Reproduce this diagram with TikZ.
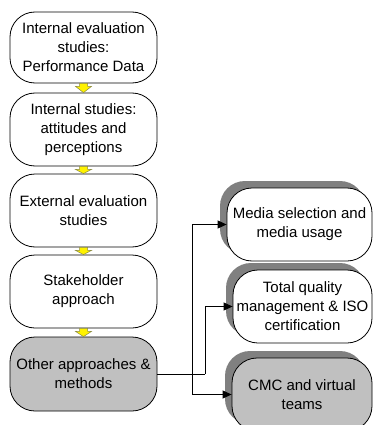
\documentclass[tikz,border=0pt]{standalone}
\usepackage{fontspec}
\setmainfont{Liberation Sans}
\usetikzlibrary{arrows.meta,shadows}
\definecolor{boxgray}{HTML}{C0C0C0}
\definecolor{shadowgray}{HTML}{808080}
\definecolor{arrowedge}{HTML}{8C8C40}
\begin{document}
\begin{tikzpicture}[x=1pt,y=-1pt,
  stage/.style={draw=black, line width=0.8pt, rounded corners=25pt, fill=white,
    align=center, inner sep=2pt, font=\fontsize{15}{19}\selectfont},
  leftbox/.style={stage, minimum width=147pt, minimum height=73pt},
  rightbox/.style={stage, minimum height=73pt,
    general shadow={fill=shadowgray, draw=none, rounded corners=25pt,
      shadow xshift=-7pt, shadow yshift=7pt}},
  flow/.style={line width=0.8pt, -{Triangle[length=9pt,width=8pt]}},
  link/.style={line width=0.8pt},
  steparrow/.style={fill=yellow, draw=arrowedge, line width=0.5pt, line join=miter}
]
\fill[white] (0,0) rectangle (374,425);
\clip (0,0) rectangle (374,425);

% stages of the evaluation sequence
\node[leftbox, minimum height=71pt] (b1) at (83.5,47.5) {Internal evaluation\\studies:\\Performance Data};
\node[leftbox] (b2) at (83.5,129.5) {Internal studies:\\attitudes and\\perceptions};
\node[leftbox] (b3) at (83.5,210.5) {External evaluation\\studies};
\node[leftbox] (b4) at (83.5,291.5) {Stakeholder\\approach};
\node[leftbox, minimum height=74pt, fill=boxgray] (b5) at (83.5,374) {Other approaches \&\\methods};

% branches of the other approaches
\node[rightbox, minimum width=145pt] (media) at (299.5,224.5) {Media selection and\\media usage};
\node[rightbox, minimum width=139pt] (tqm) at (302.5,306.5) {Total quality\\management \& ISO\\certification};
\node[rightbox, minimum width=140pt, fill=boxgray] (cmc) at (302,394.5) {CMC and virtual\\teams};

% small yellow block arrows between stages
\foreach \a/\b in {b1/b2, b2/b3, b3/b4, b4/b5}{
  \draw[steparrow] ([xshift=-4pt]\a.south) -- ([xshift=4pt]\a.south) -- ++(0,3) -- ++(4,0)
    -- (\b.north) -- ([xshift=-8pt,yshift=-3pt]\a.south) -- ++(4,0) -- cycle;
}

% connectors to the branches
\coordinate (j1) at (192,374);
\coordinate (j2) at (205,374);
\draw[link] (b5.east) -- (j2);
\draw[flow] (j1) |- (media.west);
\draw[flow] (j1) |- (cmc.west);
\draw[flow] (j2) |- (tqm.west);
\end{tikzpicture}
\end{document}
